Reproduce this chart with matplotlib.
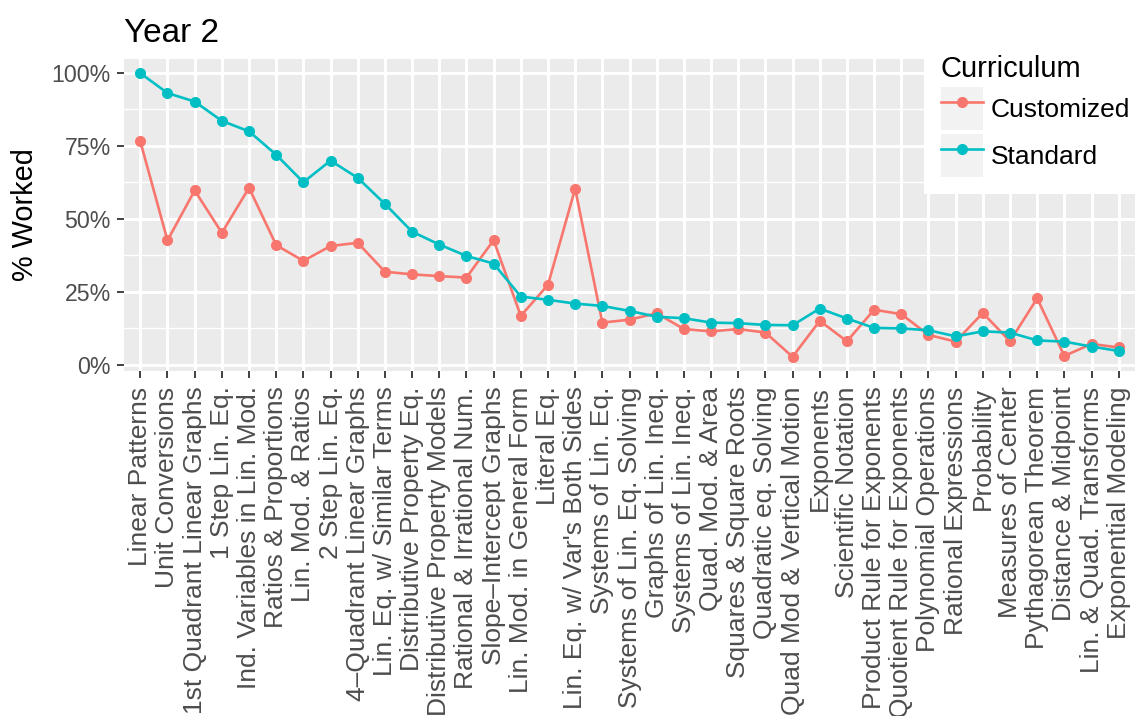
import matplotlib
matplotlib.use("Agg")
import matplotlib.pyplot as plt
from matplotlib.patches import Rectangle
from matplotlib.lines import Line2D
from matplotlib.ticker import FixedLocator, FuncFormatter

plt.rcParams['font.family'] = ['Liberation Sans', 'DejaVu Sans']

# Topics in plotting order
topics = [
    "Linear Patterns", "Unit Conversions", "1st Quadrant Linear Graphs", "1 Step Lin. Eq.",
    "Ind. Variables in Lin. Mod.", "Ratios & Proportions", "Lin. Mod. & Ratios", "2 Step Lin. Eq.",
    "4\u2013Quadrant Linear Graphs", "Lin. Eq. w/ Similar Terms", "Distributive Property Eq.",
    "Distributive Property Models", "Rational & Irrational Num.", "Slope\u2013Intercept Graphs",
    "Lin. Mod. in General Form", "Literal Eq.", "Lin. Eq. w/ Var's Both Sides", "Systems of Lin. Eq.",
    "Systems of Lin. Eq. Solving", "Graphs of Lin. Ineq.", "Systems of Lin. Ineq.", "Quad. Mod. & Area",
    "Squares & Square Roots", "Quadratic eq. Solving", "Quad Mod & Vertical Motion", "Exponents",
    "Scientific Notation", "Product Rule for Exponents", "Quotient Rule for Exponents",
    "Polynomial Operations", "Rational Expressions", "Probability", "Measures of Center",
    "Pythagorean Theorem", "Distance & Midpoint", "Lin. & Quad. Transforms", "Exponential Modeling",
]

# share of students who worked each topic (0-1)
customized = [
    0.765, 0.426, 0.597, 0.452, 0.606, 0.410, 0.356, 0.407, 0.418, 0.319,
    0.310, 0.304, 0.299, 0.427, 0.168, 0.274, 0.603, 0.145, 0.155, 0.177,
    0.123, 0.115, 0.123, 0.111, 0.028, 0.151, 0.081, 0.189, 0.174, 0.103,
    0.080, 0.178, 0.081, 0.228, 0.031, 0.072, 0.060,
]
standard = [
    0.998, 0.930, 0.901, 0.835, 0.799, 0.719, 0.625, 0.699, 0.640, 0.551,
    0.456, 0.412, 0.373, 0.347, 0.234, 0.223, 0.210, 0.202, 0.185, 0.165,
    0.160, 0.145, 0.143, 0.137, 0.136, 0.193, 0.159, 0.127, 0.125, 0.119,
    0.098, 0.115, 0.111, 0.084, 0.080, 0.063, 0.048,
]

series_names = ["Customized", "Standard"]
series_colors = ["#F8766D", "#00BFC4"]

W, H = 1135, 716
fig = plt.figure(figsize=(W / 100, H / 100), dpi=100)
ax = fig.add_axes([124 / W, 1 - 371 / H, 1 - 124 / W, (371 - 59) / H])

ax.set_facecolor("#EBEBEB")
for s in ax.spines.values():
    s.set_visible(False)

x = list(range(len(topics)))
for vals, name, col in zip([customized, standard], series_names, series_colors):
    ax.plot(x, vals, color=col, lw=1.9, marker='o', ms=8, mew=0, label=name, zorder=3)

# ggplot-like limits
allv = customized + standard
lo, hi = min(allv), max(allv)
pad = (hi - lo) * 0.05
ax.set_ylim(lo - pad, hi + pad)
ax.set_xlim(-0.6, len(topics) - 1 + 0.6)

ax.yaxis.set_major_locator(FixedLocator([0, 0.25, 0.5, 0.75, 1.0]))
ax.yaxis.set_minor_locator(FixedLocator([0.125, 0.375, 0.625, 0.875]))
ax.yaxis.set_major_formatter(FuncFormatter(lambda v, p: f"{v * 100:.0f}%"))
ax.set_xticks(x)
ax.set_xticklabels(topics, rotation=90, ha='center', va='top')

ax.grid(which='major', color='white', lw=2.1, zorder=0)
ax.grid(which='minor', axis='y', color='white', lw=1.0, zorder=0)
ax.set_axisbelow(True)

ax.tick_params(axis='both', which='major', length=4.8, width=1.3, color='#333333',
               labelcolor='#4D4D4D')
ax.tick_params(axis='y', which='major', labelsize=16.7, pad=4.8)
ax.tick_params(axis='x', which='major', labelsize=19, pad=6.3)
ax.tick_params(axis='y', which='minor', length=0)

fig.text(124 / W, 1 - 42 / H, "Year 2", fontsize=24, ha='left', va='baseline')
fig.text(25 / W, 1 - 215 / H, "% Worked", fontsize=20.8, rotation=90, ha='center', va='center')

# legend with gray key boxes
handles = []
for name, col in zip(series_names, series_colors):
    box = Rectangle((0, 0), 1, 1, facecolor='#F2F2F2', edgecolor='none')
    ln = Line2D([], [], color=col, lw=1.9, marker='o', ms=8, mew=0)
    handles.append((box, ln))
leg = ax.legend(handles, series_names, title="Curriculum", loc='upper left',
                bbox_to_anchor=(924 / W, 1 - 38 / H), bbox_transform=fig.transFigure,
                fontsize=19, title_fontsize=21, frameon=True, fancybox=False,
                handlelength=1.59, handleheight=2.13, labelspacing=0.15,
                handletextpad=0.3, borderpad=0.64, borderaxespad=0)
leg._legend_box.align = "left"
leg.get_frame().set_facecolor('white')
leg.get_frame().set_edgecolor('none')
leg.get_frame().set_alpha(1)

fig.savefig("out.png", dpi=100)
